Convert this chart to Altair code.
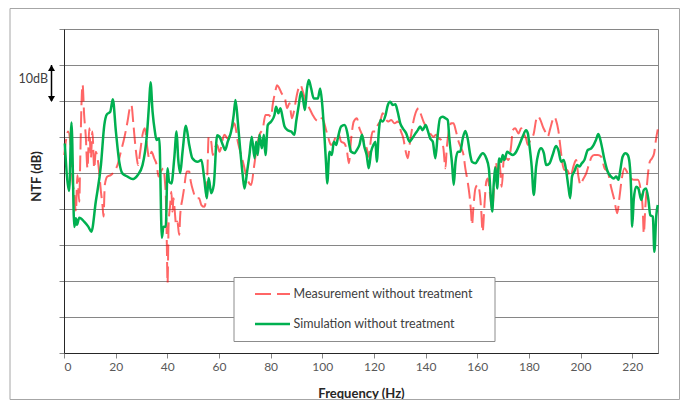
import altair as alt
import pandas as pd

# ---------------- data ----------------
meas_freq = [0.1, 0.7, 1.6, 2.4, 2.9, 3.3, 3.9, 4.6, 5.2, 5.9, 6.3, 6.8, 7.2, 7.8, 8.4, 9.1, 9.8,
             10.4, 11.0, 11.7, 12.3, 13.0, 13.6, 14.3, 14.9, 15.3, 15.8, 16.8, 18.1, 19.4, 20.7,
             22.0, 23.3, 24.6, 25.6, 26.1, 26.9, 27.6, 28.2, 28.7, 29.5, 30.4, 31.3, 32.1, 33.0,
             33.9, 34.9, 35.9, 36.6, 37.5, 38.5, 39.0, 39.6, 39.8, 40.1, 40.5, 41.1, 41.6, 42.0,
             42.4, 42.9, 43.4, 43.9, 44.6, 45.0, 45.9, 46.5, 47.5, 48.5, 49.1, 50.1, 51.0, 52.3,
             53.2, 54.3, 55.3, 55.6, 56.0, 57.0, 57.6, 58.3, 59.3, 60.2, 62.1, 63.4, 64.7, 66.0,
             67.3, 68.6, 69.6, 70.5, 72.5, 73.5, 74.4, 75.7, 77.0, 78.0, 79.2, 80.2, 80.8, 81.8,
             82.5, 83.4, 84.3, 85.4, 86.4, 87.3, 88.2, 89.0, 89.9, 90.8, 91.6, 92.5, 93.8, 95.0,
             96.3, 97.6, 98.9, 99.8, 100.6, 101.5, 102.4, 103.4, 104.5, 105.4, 106.2, 107.3,
             108.6, 109.6, 110.3, 111.2, 112.2, 113.4, 114.4, 115.4, 116.3, 117.2, 118.0, 118.9,
             119.5, 120.6, 121.5, 122.4, 123.4, 124.5, 125.4, 126.7, 128.0, 129.2, 130.5, 131.4,
             132.2, 133.1, 134.0, 134.8, 135.7, 136.6, 137.4, 138.3, 139.2, 140.2, 141.2, 142.2,
             143.0, 144.1, 145.1, 146.0, 146.9, 147.7, 148.2, 149.0, 149.9, 150.8, 151.8, 152.8,
             153.8, 154.7, 155.4, 156.3, 157.0, 157.6, 158.0, 158.5, 159.3, 160.2, 160.9, 161.5,
             162.1, 162.8, 163.5, 164.1, 164.7, 165.8, 166.7, 167.3, 167.7, 168.6, 169.5, 170.3,
             171.2, 172.1, 173.1, 173.8, 174.7, 176.0, 177.0, 178.0, 178.9, 179.6, 180.6, 181.9,
             182.8, 183.4, 184.5, 185.4, 186.3, 187.3, 188.3, 189.2, 189.9, 190.5, 191.4, 192.2,
             192.9, 193.8, 194.8, 196.1, 197.4, 198.3, 199.2, 200.0, 200.9, 202.2, 203.4, 204.3,
             205.4, 206.7, 208.0, 209.3, 210.5, 211.8, 213.1, 214.2, 215.1, 216.0, 217.0, 218.3,
             219.6, 220.9, 222.2, 223.2, 224.1, 224.5, 225.1, 225.9, 226.8, 227.7, 228.5, 229.2,
             229.9]
meas_ntf = [-5, -1.3, 1.5, -1.3, -5.9, -12.4, -15.2, -20.7, -10.6, -18, -5.9, 9.8, 14.6, 6.1, 0.6,
            -8.7, 2.4, -5.9, 1.5, -8.7, -4.1, -5.9, -9.6, -15.2, -18.9, -22.1, -13.3, -11, -10.6,
            -9.6, -7.8, -4.1, -0.4, 4.3, 8.4, 8.9, 3.3, -2.2, -5.9, -7.8, -4.1, 0.6, 2.4, -2.2,
            -5.9, -4.1, -5.9, -7.8, -11, -9.6, -8.7, -11.5, -20.7, -29, -40.6, -24.4, -18.9, -15.2,
            -20.7, -17, -20.7, -24.4, -23.5, -27.2, -21.7, -17, -14.3, -9.6, -9.6, -12.4, -15.2,
            -17, -17, -18.9, -19.4, -15.2, -8, 0.1, -1.3, -5, -3.1, -2.2, -4.1, 0.6, -0.4, 1.5,
            3.8, -1.3, -5, -7.8, -10.6, -13.3, -8.7, -4.1, 0.6, 2.4, 6.1, 6.1, 5.6, 8.9, 12.6,
            14.4, 13.5, 12.1, 11.2, 8, 9.4, 5.2, 7, 10.7, 13.5, 14.4, 12.6, 9.4, 8, 6.1, 4.7, 4.3,
            5.2, 4.3, 1.9, -0.4, -2.2, -1.3, 0.6, 1, -1.3, -1.8, -4.1, -7.3, -0.4, 4.3, 5.2, 2.4,
            0.6, -1.8, -3.1, -5.5, -0.4, 1.5, 1.5, 3.3, 4.3, 6.6, 5.2, 4.3, 4.7, 3.8, 4.3, 1.5,
            -0.4, -3.6, -5.9, -1.3, 2.4, 5.6, 7.5, 8, 6.1, 4.3, 2.9, 1.9, 0.6, 0.1, 0.6, -0.4,
            -0.8, -3.1, -8.7, -3.1, 1.5, 3.8, 3.8, 1.5, -1.3, -3.1, -5, -8.7, -12.4, -16.1, -20.7,
            -24.4, -19.8, -14.3, -13.3, -15.2, -19.8, -26.3, -18.9, -12.4, -11.5, -14.3, -20,
            -12, -6.9, -10.1, -6.9, -13.8, -6.4, -5.9, -6.4, -2.7, 1.9, 2.4, 1, 2.4, 1, -0.4,
            -2.2, -0.8, 1, 4.7, 5.8, 4.7, 2.9, 1.5, 0.1, 2.4, 4.7, 5.6, 4.7, 1.9, -2.7, -6.9,
            -9.2, -9.2, -11, -7.8, -6.4, -11, -13.3, -11.9, -10.1, -7.3, -5.5, -5, -5, -5.5,
            -8.7, -9.6, -13.8, -17.5, -21.2, -16.6, -11.5, -8.7, -10.1, -11.5, -11.9, -11.9,
            -14.3, -20.3, -26.8, -19.4, -11.9, -6.9, -5.9, -4.5, -0.8, 2.1]

sim_freq = [0.3, 2.0, 2.9, 4.0, 4.6, 5.0, 5.9, 7.8, 9.4, 10.6, 12.3, 14.3, 15.6, 16.6, 17.9, 18.9,
            20.1, 21.4, 22.6, 24.6, 26.5, 28.5, 30.4, 32.1, 33.0, 33.5, 34.3, 35.2, 35.8, 36.9,
            37.9, 38.5, 39.4, 40.1, 40.7, 41.6, 42.7, 43.6, 44.2, 45.0, 45.9, 47.2, 48.5, 49.7,
            51.7, 53.2, 54.3, 55.3, 56.0, 57.0, 58.0, 59.3, 60.2, 61.5, 62.4, 63.4, 64.7, 65.7,
            66.4, 67.3, 68.3, 69.2, 69.9, 70.9, 71.8, 72.7, 73.8, 74.4, 75.0, 75.7, 76.6, 77.4,
            78.0, 78.9, 80.2, 81.5, 82.1, 83.0, 83.8, 84.7, 85.4, 86.6, 88.0, 89.2, 89.9, 90.8,
            91.8, 92.7, 93.3, 94.1, 94.8, 95.7, 96.7, 98.3, 99.2, 100.0, 100.9, 101.5, 101.9,
            102.8, 103.7, 104.5, 105.4, 106.0, 107.3, 108.6, 109.6, 110.5, 111.2, 112.5, 113.4,
            114.4, 115.4, 116.3, 117.2, 118.0, 118.9, 119.8, 120.6, 121.1, 121.9, 122.5, 123.4,
            124.5, 125.4, 126.3, 127.3, 128.3, 129.2, 130.2, 131.2, 132.5, 133.8, 134.8, 136.1,
            137.0, 137.9, 138.9, 140.0, 140.8, 141.8, 142.8, 143.8, 144.7, 145.6, 146.6, 147.7,
            148.6, 149.2, 150.3, 150.9, 151.6, 152.5, 153.4, 154.4, 155.4, 156.3, 157.3, 158.0,
            159.3, 160.6, 162.1, 163.5, 164.5, 165.4, 165.8, 166.4, 167.1, 167.7, 168.5, 169.2,
            169.9, 170.5, 171.6, 172.5, 173.8, 175.1, 176.3, 177.6, 178.9, 179.6, 180.2, 181.1,
            181.9, 182.8, 183.7, 184.7, 185.8, 186.7, 188.0, 189.2, 190.5, 191.4, 192.5, 193.5,
            194.4, 195.3, 196.0, 196.7, 197.6, 198.7, 199.6, 200.5, 201.5, 202.8, 204.1, 205.1,
            206.0, 206.9, 208.0, 209.3, 210.5, 211.8, 212.9, 213.8, 214.7, 215.4, 216.3, 217.4,
            218.3, 219.0, 219.6, 220.0, 220.6, 221.5, 222.4, 223.5, 224.5, 225.4, 226.3, 227.0,
            228.0, 228.6, 229.3, 229.9]
sim_ntf = [-1.8, -15, 4, -25, -22.6, -24.4, -22.4, -23.5, -24.9, -26.3, -18, -7.8, 3.3, 6.3, 7.0,
           10.5, 1.5, -6.9, -10.1, -11, -11.7, -10.6, -7.8, 0.6, 9.8, 15.2, 7, 1.5, -0.8, -0.4,
           -28, -24.9, -24.9, -8.7, -12.4, -12.9, -5.9, 1.5, -5.9, -10, -4.1, 3.1, -2.2, -5.9,
           -6.9, -6.4, -11.5, -17, -11.4, -15.6, -13.3, 0.5, 0.1, -2.2, -3.6, -1.3, 1.5, 6.1,
           10.3, 4.3, -4.1, -10.6, -14.3, -9.6, -5, 0.1, -5.9, -1.3, -5, 0.6, -3.1, 0.6, -5, 3.3,
           4.3, 6.1, 8.4, 6.6, 8, 5.2, 2.9, 1.9, 1.5, 0.6, 4.3, 8.4, 12.6, 9.8, 7.5, 13.5, 15.8,
           13.5, 10.7, 10.7, 13.5, 8.9, -0.4, -7.8, -12.9, -4.1, -5, -1.3, -2.2, -0.4, 2.9, 3.3,
           1.5, -2.2, -4.1, -4.5, -3.6, -2.2, 0.6, -2.7, -5, -8.7, -4.1, -2.2, -1.3, -6.9, 1.5,
           4.7, 4.3, 6.1, 8.9, 9.8, 8.9, 9.1, 7, 3.8, 2.4, 1, -1.3, -0.4, 1, 1.9, 2.9, 1.9, 3.3,
           1.9, -0.4, -1.3, -5.9, 0.6, 5.2, 5.6, 5.2, 4.7, -0.4, -7.8, -13.3, -6.9, -4.1, -4.1,
           -0.4, 1.7, -0.4, -5, -6.9, -7.3, -5.9, -4.5, -5.9, -8.7, -18, -20.7, -13, -8.5, -14.3,
           -6, -6.9, -5, -6.4, -4.1, -4.5, -5, -4.1, -2.2, 0.1, 1.9, 1, -2.2, -8.2, -16.1, -8.2,
           -4.5, -3.1, -4.5, -7.8, -7.3, -5, -2.5, -3.6, -6.9, -6.4, -9.2, -13.8, -17, -11, -9.6,
           -7.8, -8.2, -7.3, -6.4, -3.6, -3.2, -2.2, -0.8, 0.8, -1.8, -6.4, -9.6, -11, -11.5,
           -11, -11.9, -9.2, -5.5, -4.5, -5, -7.3, -14.7, -24.9, -17.5, -13.8, -14.3, -17.5,
           -14.7, -14.3, -17.5, -21.7, -22.1, -31.9, -22.1, -18.9]

x_ticks = [0, 20, 40, 60, 80, 100, 120, 140, 160, 180, 200, 220]
y_grid = [-60, -50, -40, -30, -20, -10, 0, 10, 20, 30]
series_names = ["Measurement without treatment", "Simulation without treatment"]
scale_label = "10dB"
scale_span = [20, 10]

meas_df = pd.DataFrame({"freq": meas_freq, "ntf": meas_ntf})
sim_df = pd.DataFrame({"freq": sim_freq, "ntf": sim_ntf})

# ---------------- styling ----------------
FONT = "Lato"
GRID = "#868686"
RED = "#FF0000"
GREEN = "#00B050"

xs = alt.Scale(domain=[0, 230], nice=False, zero=False)
ys = alt.Scale(domain=[-60, 30], nice=False, zero=False)

x_axis = alt.Axis(values=x_ticks, title="Frequency (Hz)", grid=False,
                  domainColor="#262626", domainWidth=1, tickColor=GRID, tickSize=5,
                  labelFont=FONT, labelFontSize=12, labelColor="#595959", labelPadding=3,
                  titleFont=FONT, titleFontSize=13, titleFontWeight="bold",
                  titleColor="#262626", titleY=40, titleBaseline="middle")
y_axis = alt.Axis(values=y_grid, labels=False, title="NTF (dB)", grid=True,
                  gridColor=GRID, gridWidth=1, domainColor="#262626", domainWidth=1,
                  tickColor=GRID, tickSize=5,
                  titleFont=FONT, titleFontSize=13, titleFontWeight="bold",
                  titleColor="#262626", titleX=-28, titleY=147, titleAngle=270,
                  titleAlign="center", titleBaseline="middle")

X = alt.X("freq:Q", scale=xs, axis=x_axis)
Y = alt.Y("ntf:Q", scale=ys, axis=y_axis)

one = pd.DataFrame({"k": [0]})

frame = alt.Chart(one).mark_rect(fillOpacity=0, stroke="#A6A6A6", strokeWidth=1).encode(
    x=alt.value(-54), x2=alt.value(615.5), y=alt.value(-20.5), y2=alt.value(370.5))

meas_line = alt.Chart(meas_df).mark_line(
    color=RED, opacity=0.6, strokeWidth=2, strokeDash=[16, 6], interpolate="monotone"
).encode(x=X, y=Y)

sim_line = alt.Chart(sim_df).mark_line(
    color=GREEN, strokeWidth=2.5, interpolate="monotone"
).encode(x=X, y=Y)

# 10 dB scale annotation (spans one grid interval of the y scale)
arrow_df = pd.DataFrame({"ntf": [scale_span[0]], "bottom": [scale_span[1]]})
arrow_line = alt.Chart(arrow_df).mark_rule(color="black", strokeWidth=1.5).encode(
    x=alt.value(-12.5), y=Y, y2="bottom:Q")
arrow_up = alt.Chart(pd.DataFrame({"ntf": [scale_span[0]]})).mark_point(
    shape="triangle-up", filled=True, color="black", size=49, opacity=1
).encode(x=alt.value(-12.5), y=Y, yOffset=alt.value(3))
arrow_dn = alt.Chart(pd.DataFrame({"ntf": [scale_span[1]]})).mark_point(
    shape="triangle-down", filled=True, color="black", size=49, opacity=1
).encode(x=alt.value(-12.5), y=Y, yOffset=alt.value(-2))
arrow_txt = alt.Chart(pd.DataFrame({"t": [scale_label]})).mark_text(
    align="right", baseline="middle", font=FONT, fontSize=12.5, color="#404040"
).encode(x=alt.value(-16), y=alt.value(50), text="t:N")

# legend (drawn manually to match the reference's boxed legend)
leg_box = alt.Chart(one).mark_rect(fill="white", stroke="#8C8C8C", strokeWidth=1).encode(
    x=alt.value(170), x2=alt.value(431), y=alt.value(248.5), y2=alt.value(312.5))
leg_meas = alt.Chart(one).mark_rule(color=RED, opacity=0.6, strokeWidth=2,
                                    strokeDash=[16, 6]).encode(
    x=alt.value(191), x2=alt.value(226), y=alt.value(265))
leg_sim = alt.Chart(one).mark_rule(color=GREEN, strokeWidth=2.5).encode(
    x=alt.value(191), x2=alt.value(226), y=alt.value(295))
leg_txt1 = alt.Chart(pd.DataFrame({"name": [series_names[0]]})).mark_text(
    align="left", baseline="middle", font=FONT, fontSize=12.5, color="#404040"
).encode(x=alt.value(229.5), y=alt.value(264.5), text="name:N")
leg_txt2 = alt.Chart(pd.DataFrame({"name": [series_names[1]]})).mark_text(
    align="left", baseline="middle", font=FONT, fontSize=12.5, color="#404040"
).encode(x=alt.value(229.5), y=alt.value(294.5), text="name:N")

chart = alt.layer(
    frame, meas_line, sim_line, arrow_line, arrow_up, arrow_dn, arrow_txt,
    leg_box, leg_meas, leg_sim, leg_txt1, leg_txt2
).properties(
    width=594, height=324,
    padding={"left": 56, "top": 21, "right": 22, "bottom": 47},
    autosize=alt.AutoSizeParams(type="none"),
    background="white",
).configure_view(stroke=GRID, strokeWidth=1)

chart.save("out.html", embed_options={"renderer": "svg", "actions": False})
